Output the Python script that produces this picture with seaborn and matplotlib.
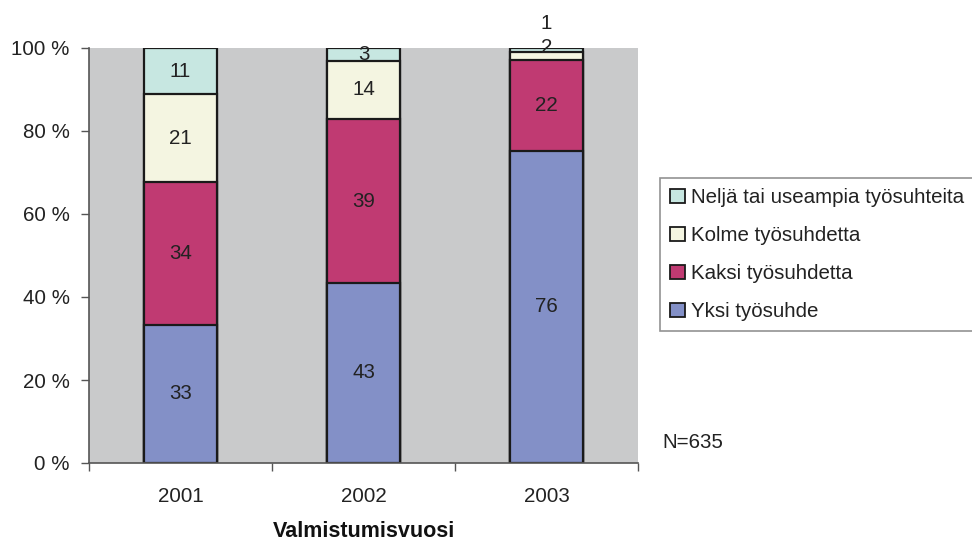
import matplotlib
matplotlib.use("Agg")
import matplotlib.pyplot as plt
from matplotlib.patches import Patch
import seaborn as sns
import pandas as pd
import numpy as np

years = ["2001", "2002", "2003"]
series_names = ["Yksi työsuhde", "Kaksi työsuhdetta", "Kolme työsuhdetta",
                "Neljä tai useampia työsuhteita"]
yksi = [33, 43, 76]
kaksi = [34, 39, 22]
kolme = [21, 14, 2]
nelja = [11, 3, 1]
colors = ["#8390C7", "#C03A72", "#F4F5E1", "#C7E7E1"]
ytick_labels = ["0 %", "20 %", "40 %", "60 %", "80 %", "100 %"]
note = "N=635"
xlabel = "Valmistumisvuosi"

sns.set_theme(style="white")
plt.rcParams["font.family"] = ["Liberation Sans", "DejaVu Sans"]

FS = 14.8

vals = np.array([yksi, kaksi, kolme, nelja], dtype=float)
totals = vals.sum(axis=0)
shares = vals / totals * 100
cum = np.cumsum(shares, axis=0)

fig = plt.figure(figsize=(9.72, 5.44), dpi=100)
ax = fig.add_axes([89/972, 1-463/544, (638-89)/972, (463-48)/544])
ax.set_facecolor("#C9CACB")

# draw layers from top (cumulative) down so that overlaps form the stack
for i in range(3, -1, -1):
    df = pd.DataFrame({"year": years, "value": cum[i]})
    sns.barplot(data=df, x="year", y="value", color=colors[i], width=0.4,
                edgecolor="#1a1a1a", linewidth=1.6, saturation=1, ax=ax)

# segment labels
for j in range(3):
    for i in range(4):
        lo = cum[i-1][j] if i > 0 else 0
        mid = (lo + cum[i][j]) / 2
        txt = str(int(vals[i][j]))
        dy = 0
        if j == 2 and i == 2:
            dy = 6
        if j == 2 and i == 3:
            dy = 19
        ax.annotate(txt, (j, mid), xytext=(0, dy), textcoords="offset points",
                    ha="center", va="center", fontsize=FS, color="#222222",
                    annotation_clip=False)

ax.set_xlim(-0.5, 2.5)
ax.set_ylim(0, 100)
ax.set_yticks([0, 20, 40, 60, 80, 100])
ax.set_yticklabels(ytick_labels, fontsize=FS, color="#222222")
ax.set_xticks([0, 1, 2])
ax.set_xticklabels(years, fontsize=FS, color="#222222")
ax.set_xticks([-0.5, 0.5, 1.5, 2.5], minor=True)
ax.tick_params(axis="x", which="major", length=0, pad=17)
ax.tick_params(axis="x", which="minor", length=6, width=1, color="#555555", direction="out", bottom=True)
ax.tick_params(axis="y", which="major", length=6, width=1, color="#555555", direction="out", left=True, pad=8)
ax.set_ylabel("")
ax.set_xlabel(xlabel, fontsize=15.5, fontweight="bold", color="#111111", labelpad=11)
for s in ["top", "right"]:
    ax.spines[s].set_visible(False)
for s in ["left", "bottom"]:
    ax.spines[s].set_color("#555555")
    ax.spines[s].set_linewidth(1.2)

handles = [Patch(facecolor=colors[i], edgecolor="#1a1a1a", linewidth=1.3, label=series_names[i])
           for i in range(3, -1, -1)]
leg = fig.legend(handles=handles, loc="upper left", bbox_to_anchor=(660/972, 1-178/544),
                 frameon=True, fancybox=False, fontsize=FS, handlelength=0.7, handleheight=0.7,
                 handletextpad=0.3, labelspacing=0.92, borderpad=0.5, borderaxespad=0)
leg.get_frame().set_edgecolor("#777777")
leg.get_frame().set_linewidth(1.2)
for t in leg.get_texts():
    t.set_color("#222222")

fig.text(662/972, 1-442/544, note, fontsize=FS, color="#222222", va="center", ha="left")

fig.savefig("out.png", dpi=100)
